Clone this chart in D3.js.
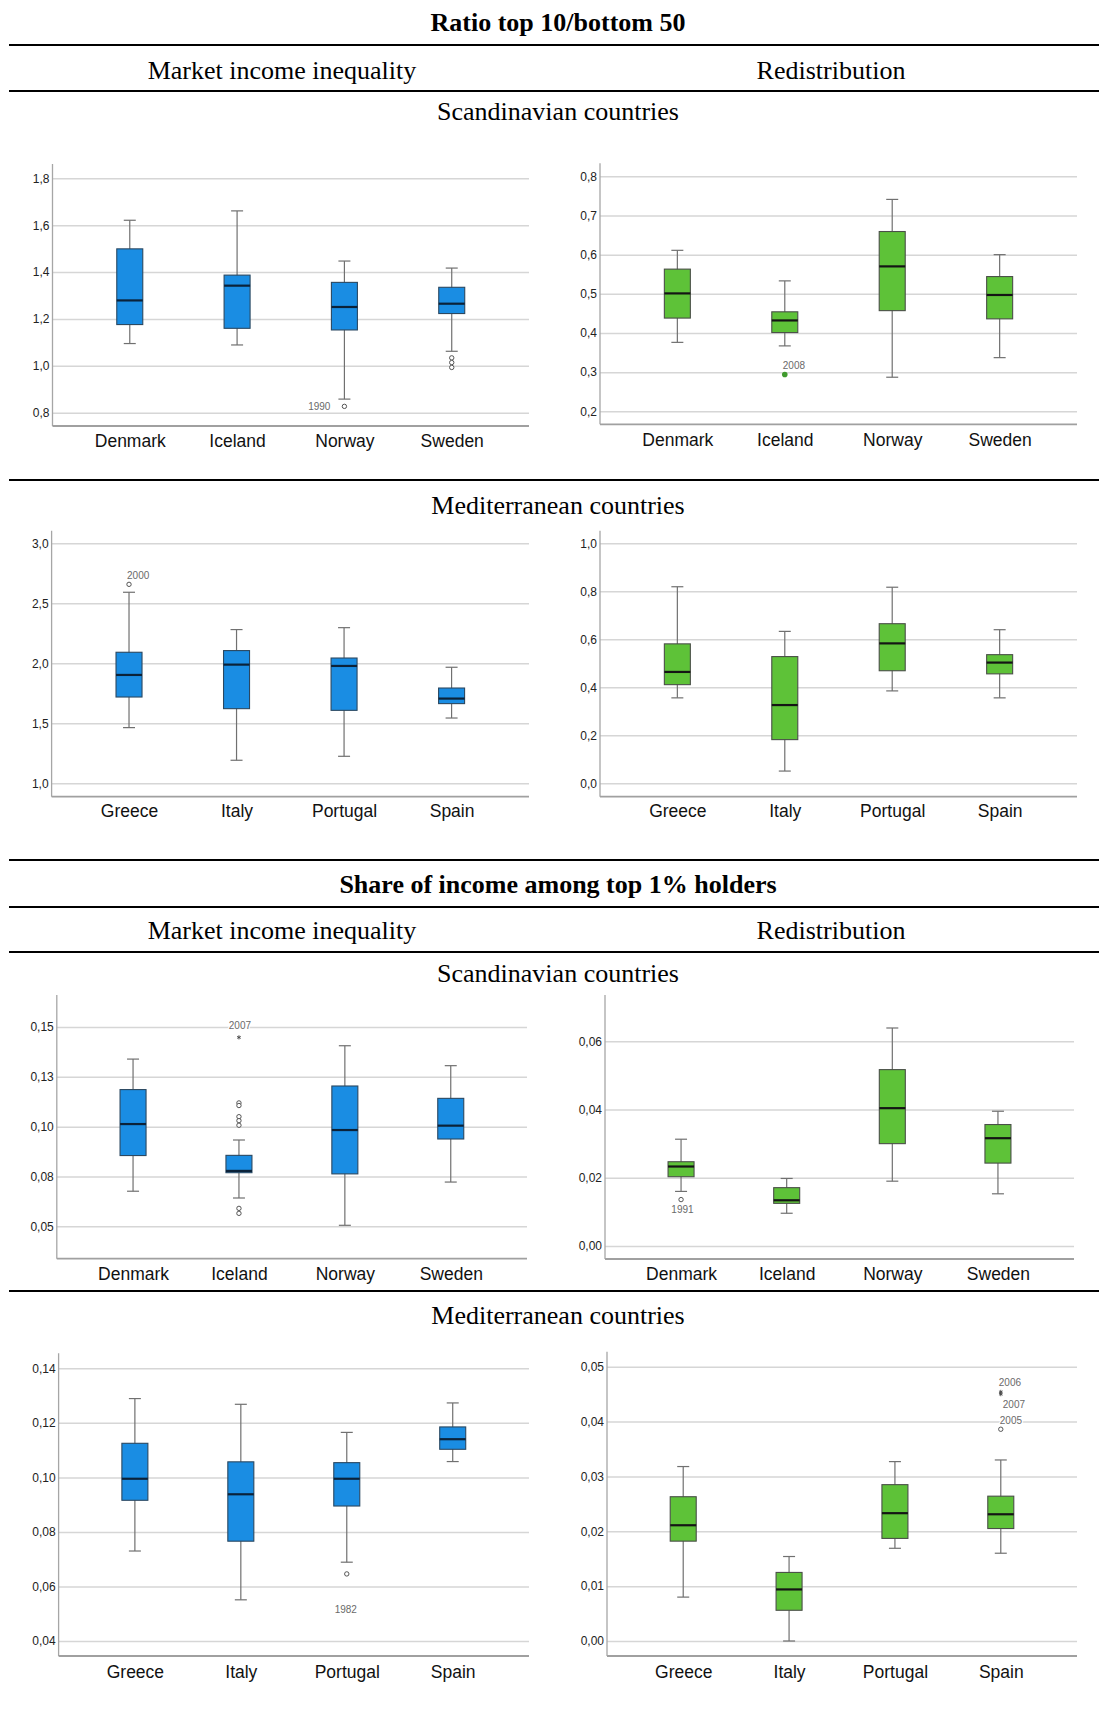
<!DOCTYPE html>
<html>
<head>
<meta charset="utf-8">
<script src="https://cdn.jsdelivr.net/npm/d3@7"></script>
<style>
  html, body { margin: 0; padding: 0; background: #fff; }
  svg { display: block; }
  .serif { font-family: "Liberation Serif", "Times New Roman", serif; fill: #000; }
  .tick text { font-family: "Liberation Sans", Arial, sans-serif; }
</style>
</head>
<body>
<script>
// ---------- data ----------
const scandCountries = ["Denmark", "Iceland", "Norway", "Sweden"];
const medCountries = ["Greece", "Italy", "Portugal", "Spain"];

// box summaries per country: [lower whisker, Q1, median, Q3, upper whisker]
const ratioMarketScand = [
  [1.095, 1.176, 1.279, 1.499, 1.621],
  [1.089, 1.160, 1.342, 1.387, 1.661],
  [0.858, 1.153, 1.251, 1.356, 1.447],
  [1.062, 1.223, 1.265, 1.335, 1.417]
];
const ratioRedisScand = [
  [0.376, 0.438, 0.501, 0.563, 0.611],
  [0.367, 0.401, 0.432, 0.454, 0.533],
  [0.287, 0.457, 0.570, 0.659, 0.741],
  [0.337, 0.436, 0.497, 0.544, 0.600]
];
const ratioMarketMed = [
  [1.464, 1.719, 1.903, 2.092, 2.592],
  [1.192, 1.622, 1.989, 2.106, 2.281],
  [1.225, 1.608, 1.978, 2.044, 2.297],
  [1.544, 1.664, 1.706, 1.794, 1.967]
];
const ratioRedisMed = [
  [0.356, 0.411, 0.464, 0.581, 0.819],
  [0.051, 0.182, 0.326, 0.528, 0.633],
  [0.385, 0.469, 0.583, 0.665, 0.817],
  [0.356, 0.456, 0.503, 0.536, 0.640]
];
const top1MarketScand = [
  [0.0676, 0.0855, 0.1013, 0.1186, 0.1339],
  [0.0642, 0.0769, 0.0778, 0.0856, 0.0933],
  [0.0505, 0.0763, 0.0983, 0.1204, 0.1406],
  [0.0722, 0.0938, 0.1005, 0.1142, 0.1306]
];
const top1RedisScand = [
  [0.0160, 0.0203, 0.0233, 0.0247, 0.0313],
  [0.0096, 0.0125, 0.0134, 0.0171, 0.0198],
  [0.0190, 0.0300, 0.0404, 0.0517, 0.0639],
  [0.0153, 0.0243, 0.0316, 0.0356, 0.0395]
];
const top1MarketMed = [
  [0.0730, 0.0916, 0.0995, 0.1125, 0.1289],
  [0.0551, 0.0766, 0.0938, 0.1057, 0.1268],
  [0.0689, 0.0895, 0.0995, 0.1054, 0.1165],
  [0.1058, 0.1103, 0.1140, 0.1185, 0.1273]
];
const top1RedisMed = [
  [0.0080, 0.0182, 0.0211, 0.0263, 0.0318],
  [0.0000, 0.0056, 0.0094, 0.0125, 0.0154],
  [0.0169, 0.0187, 0.0233, 0.0285, 0.0327],
  [0.0160, 0.0205, 0.0231, 0.0264, 0.0330]
];

// points beyond the whiskers (circle = outlier, star = extreme)
const ratioMarketScandOut = [
  { country: "Norway", value: 0.827, mark: "circle", year: "1990" },
  { country: "Sweden", value: 1.034, mark: "circle" },
  { country: "Sweden", value: 1.014, mark: "circle" },
  { country: "Sweden", value: 0.993, mark: "circle" }
];
const ratioRedisScandOut = [
  { country: "Iceland", value: 0.294, mark: "dot", year: "2008" }
];
const ratioMarketMedOut = [
  { country: "Greece", value: 2.658, mark: "circle", year: "2000" }
];
const ratioRedisMedOut = [];
const top1MarketScandOut = [
  { country: "Iceland", value: 0.1448, mark: "star", year: "2007" },
  { country: "Iceland", value: 0.1119, mark: "circle" },
  { country: "Iceland", value: 0.1106, mark: "circle" },
  { country: "Iceland", value: 0.1050, mark: "circle" },
  { country: "Iceland", value: 0.1030, mark: "circle" },
  { country: "Iceland", value: 0.1007, mark: "circle" },
  { country: "Iceland", value: 0.0590, mark: "circle" },
  { country: "Iceland", value: 0.0565, mark: "circle" }
];
const top1RedisScandOut = [
  { country: "Denmark", value: 0.0136, mark: "circle", year: "1991" }
];
const top1MarketMedOut = [
  { country: "Portugal", value: 0.0646, mark: "circle", year: "1982" }
];
const top1RedisMedOut = [
  { country: "Spain", value: 0.0454, mark: "star", year: "2006" },
  { country: "Spain", value: 0.0450, mark: "star", year: "2007" },
  { country: "Spain", value: 0.0386, mark: "circle", year: "2005" }
];

// value axes
const ratioMarketScandTicks = [0.8, 1.0, 1.2, 1.4, 1.6, 1.8];
const ratioMarketScandTickLabels = ["0,8", "1,0", "1,2", "1,4", "1,6", "1,8"];
const ratioRedisScandTicks = [0.2, 0.3, 0.4, 0.5, 0.6, 0.7, 0.8];
const ratioRedisScandTickLabels = ["0,2", "0,3", "0,4", "0,5", "0,6", "0,7", "0,8"];
const ratioMarketMedTicks = [1.0, 1.5, 2.0, 2.5, 3.0];
const ratioMarketMedTickLabels = ["1,0", "1,5", "2,0", "2,5", "3,0"];
const ratioRedisMedTicks = [0.0, 0.2, 0.4, 0.6, 0.8, 1.0];
const ratioRedisMedTickLabels = ["0,0", "0,2", "0,4", "0,6", "0,8", "1,0"];
const top1MarketScandTicks = [0.05, 0.075, 0.10, 0.125, 0.15];
const top1MarketScandTickLabels = ["0,05", "0,08", "0,10", "0,13", "0,15"];
const top1RedisScandTicks = [0.00, 0.02, 0.04, 0.06];
const top1RedisScandTickLabels = ["0,00", "0,02", "0,04", "0,06"];
const top1MarketMedTicks = [0.04, 0.06, 0.08, 0.10, 0.12, 0.14];
const top1MarketMedTickLabels = ["0,04", "0,06", "0,08", "0,10", "0,12", "0,14"];
const top1RedisMedTicks = [0.00, 0.01, 0.02, 0.03, 0.04, 0.05];
const top1RedisMedTickLabels = ["0,00", "0,01", "0,02", "0,03", "0,04", "0,05"];

// ---------- layout & style ----------
const W = 1099, H = 1715;
const styles = {
  market: { fill: "#1a8de3", stroke: "#2b4861", median: "#0b2239" },
  redis:  { fill: "#5ec238", stroke: "#4a4f48", median: "#141414", dot: "#3f9a2d" }
};

const svg = d3.select("body").append("svg").attr("width", W).attr("height", H);

// header texts and rules
const headings = [
  { text: "Ratio top 10/bottom 50", x: 558, y: 31, bold: true },
  { text: "Market income inequality", x: 282, y: 79 },
  { text: "Redistribution", x: 831, y: 79 },
  { text: "Scandinavian countries", x: 558, y: 120 },
  { text: "Mediterranean countries", x: 558, y: 514 },
  { text: "Share of income among top 1% holders", x: 558, y: 893 },
  { text: "Market income inequality", x: 282, y: 939 },
  { text: "Redistribution", x: 831, y: 939 },
  { text: "Scandinavian countries", x: 558, y: 982 },
  { text: "Mediterranean countries", x: 558, y: 1324 }
];
headings[5].bold = true;
svg.selectAll("text.heading").data(headings).join("text")
  .attr("class", "heading serif")
  .attr("x", d => d.x).attr("y", d => d.y)
  .attr("text-anchor", "middle")
  .attr("font-size", 26)
  .attr("font-weight", d => d.bold ? "bold" : "normal")
  .text(d => d.text);

const rules = [45, 91, 480, 860, 907, 952, 1291];
svg.selectAll("line.rule").data(rules).join("line")
  .attr("class", "rule")
  .attr("x1", 9).attr("x2", W).attr("y1", d => d).attr("y2", d => d)
  .attr("stroke", "#000").attr("stroke-width", 2);

function drawPanel(cfg) {
  const g = svg.append("g");
  const x = d3.scalePoint().domain(cfg.cats).range([cfg.x0, cfg.x1]).padding(0.72);
  const y = d3.scaleLinear()
    .domain([cfg.ticks[0], cfg.ticks[cfg.ticks.length - 1]])
    .range([cfg.pxLow, cfg.pxHigh]);
  const st = styles[cfg.kind];

  // gridlines
  g.append("g")
    .attr("transform", `translate(${cfg.x0},0)`)
    .call(d3.axisLeft(y).tickValues(cfg.ticks).tickSize(-(cfg.x1 - cfg.x0)).tickFormat(""))
    .call(a => a.select(".domain").remove())
    .call(a => a.selectAll(".tick line").attr("stroke", "#d6d6d6").attr("stroke-width", 1.5));

  // tick labels
  g.append("g")
    .attr("transform", `translate(${cfg.x0 - 3},0)`)
    .call(d3.axisLeft(y).tickValues(cfg.ticks).tickSize(0).tickPadding(0)
      .tickFormat((d, i) => cfg.tickLabels[i]))
    .call(a => a.select(".domain").remove())
    .call(a => a.selectAll(".tick text").attr("font-size", 12).attr("fill", "#222"));

  // axis lines
  g.append("line").attr("x1", cfg.x0).attr("x2", cfg.x0)
    .attr("y1", cfg.axisTop).attr("y2", cfg.axisBottom)
    .attr("stroke", "#a6a6a6").attr("stroke-width", 1.3);
  g.append("line").attr("x1", cfg.x0).attr("x2", cfg.x1)
    .attr("y1", cfg.axisBottom).attr("y2", cfg.axisBottom)
    .attr("stroke", "#a0a0a0").attr("stroke-width", 1.8);

  // category labels
  g.append("g")
    .attr("transform", `translate(0,${cfg.axisBottom})`)
    .call(d3.axisBottom(x).tickSize(0).tickPadding(cfg.catPad))
    .call(a => a.select(".domain").remove())
    .call(a => a.selectAll(".tick text").attr("font-size", 17.5).attr("fill", "#111"));

  const bw = 26, cap = 12;
  const boxes = g.selectAll("g.box").data(cfg.stats.map((s, i) => ({ c: cfg.cats[i], s })))
    .join("g").attr("class", "box");
  // whiskers
  boxes.append("line")
    .attr("x1", d => x(d.c)).attr("x2", d => x(d.c))
    .attr("y1", d => y(d.s[0])).attr("y2", d => y(d.s[4]))
    .attr("stroke", "#707070").attr("stroke-width", 1.2);
  [0, 4].forEach(k => {
    boxes.append("line")
      .attr("x1", d => x(d.c) - cap / 2).attr("x2", d => x(d.c) + cap / 2)
      .attr("y1", d => y(d.s[k])).attr("y2", d => y(d.s[k]))
      .attr("stroke", "#707070").attr("stroke-width", 1.2);
  });
  // box
  boxes.append("rect")
    .attr("x", d => x(d.c) - bw / 2).attr("width", bw)
    .attr("y", d => y(d.s[3])).attr("height", d => y(d.s[1]) - y(d.s[3]))
    .attr("fill", st.fill).attr("stroke", st.stroke).attr("stroke-width", 1.1);
  // median
  boxes.append("line")
    .attr("x1", d => x(d.c) - bw / 2).attr("x2", d => x(d.c) + bw / 2)
    .attr("y1", d => y(d.s[2])).attr("y2", d => y(d.s[2]))
    .attr("stroke", st.median).attr("stroke-width", 2.2);

  // points beyond whiskers
  const pts = g.selectAll("g.pt").data(cfg.out).join("g").attr("class", "pt")
    .attr("transform", d => `translate(${x(d.country)},${y(d.value)})`);
  pts.filter(d => d.mark === "circle").append("circle")
    .attr("r", 2.2).attr("fill", "#fff").attr("stroke", "#555").attr("stroke-width", 1);
  pts.filter(d => d.mark === "dot").append("circle")
    .attr("r", 2.8).attr("fill", st.dot || "#555");
  const ast = d3.symbolAsterisk || d3.symbolCross;
  pts.filter(d => d.mark === "star").append("path")
    .attr("d", d3.symbol(ast, 12)())
    .attr("fill", "none").attr("stroke", "#444").attr("stroke-width", 0.9);

  // year labels
  g.selectAll("text.year").data(cfg.out.filter(d => d.year)).join("text")
    .attr("class", "year")
    .attr("x", d => x(d.country) + cfg.yearPos[d.year][0])
    .attr("y", d => y(d.value) + cfg.yearPos[d.year][1])
    .attr("text-anchor", d => cfg.yearPos[d.year][2])
    .attr("font-family", "Liberation Sans, Arial, sans-serif")
    .attr("font-size", 10).attr("fill", "#6a6a6a")
    .attr("stroke", "#fff").attr("stroke-width", 2.5).attr("paint-order", "stroke")
    .text(d => d.year);
}

const panels = [
  { kind: "market", cats: scandCountries, stats: ratioMarketScand, out: ratioMarketScandOut,
    ticks: ratioMarketScandTicks, tickLabels: ratioMarketScandTickLabels,
    x0: 52.5, x1: 529, pxLow: 412.7, pxHigh: 178.3, axisTop: 164, axisBottom: 426, catPad: 9,
    yearPos: { "1990": [-14, 3.5, "end"] } },
  { kind: "redis", cats: scandCountries, stats: ratioRedisScand, out: ratioRedisScandOut,
    ticks: ratioRedisScandTicks, tickLabels: ratioRedisScandTickLabels,
    x0: 600, x1: 1077, pxLow: 411.3, pxHigh: 176.3, axisTop: 163.3, axisBottom: 424.3, catPad: 9,
    yearPos: { "2008": [-2, -5, "start"] } },
  { kind: "market", cats: medCountries, stats: ratioMarketMed, out: ratioMarketMedOut,
    ticks: ratioMarketMedTicks, tickLabels: ratioMarketMedTickLabels,
    x0: 51.6, x1: 529, pxLow: 783.3, pxHigh: 543.3, axisTop: 530.7, axisBottom: 796.7, catPad: 8,
    yearPos: { "2000": [-2, -5, "start"] } },
  { kind: "redis", cats: medCountries, stats: ratioRedisMed, out: ratioRedisMedOut,
    ticks: ratioRedisMedTicks, tickLabels: ratioRedisMedTickLabels,
    x0: 600, x1: 1077, pxLow: 783.3, pxHigh: 543.3, axisTop: 530.7, axisBottom: 796.7, catPad: 8,
    yearPos: {} },
  { kind: "market", cats: scandCountries, stats: top1MarketScand, out: top1MarketScandOut,
    ticks: top1MarketScandTicks, tickLabels: top1MarketScandTickLabels,
    x0: 56.8, x1: 527, pxLow: 1226.3, pxHigh: 1027, axisTop: 995, axisBottom: 1258.7, catPad: 9,
    yearPos: { "2007": [1, -8.8, "middle"] } },
  { kind: "redis", cats: scandCountries, stats: top1RedisScand, out: top1RedisScandOut,
    ticks: top1RedisScandTicks, tickLabels: top1RedisScandTickLabels,
    x0: 605, x1: 1074, pxLow: 1246, pxHigh: 1041.3, axisTop: 995, axisBottom: 1259, catPad: 9,
    yearPos: { "1991": [1.4, 13.8, "middle"] } },
  { kind: "market", cats: medCountries, stats: top1MarketMed, out: top1MarketMedOut,
    ticks: top1MarketMedTicks, tickLabels: top1MarketMedTickLabels,
    x0: 58.6, x1: 529, pxLow: 1641, pxHigh: 1368.3, axisTop: 1353.3, axisBottom: 1656, catPad: 10,
    yearPos: { "1982": [-1, 38.8, "middle"] } },
  { kind: "redis", cats: medCountries, stats: top1RedisMed, out: top1RedisMedOut,
    ticks: top1RedisMedTicks, tickLabels: top1RedisMedTickLabels,
    x0: 607, x1: 1077, pxLow: 1641, pxHigh: 1366.7, axisTop: 1351.7, axisBottom: 1656, catPad: 10,
    yearPos: { "2006": [-2, -5.7, "start"], "2007": [2, 13.4, "start"], "2005": [-1, -4.8, "start"] } }
];
panels.forEach(drawPanel);
</script>
</body>
</html>
